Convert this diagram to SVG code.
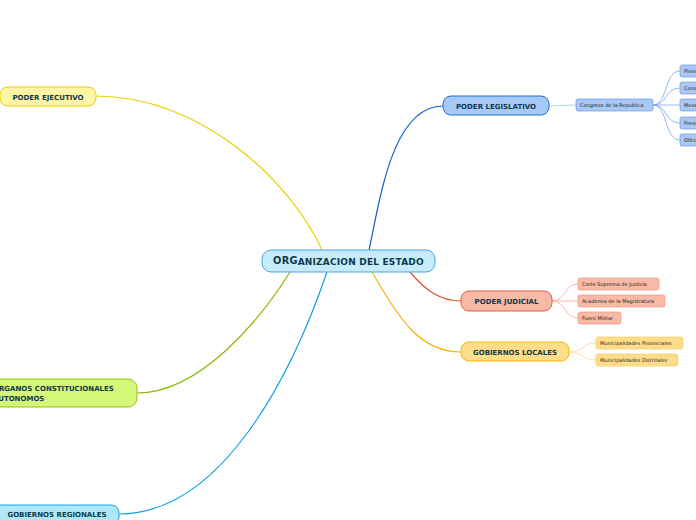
<svg xmlns="http://www.w3.org/2000/svg" width="696" height="520" viewBox="0 0 696 520">
<style>
.t{font-family:"DejaVu Sans",Verdana,sans-serif;font-weight:bold;fill:#10384a;text-anchor:middle}
.m{font-size:7px}
.s{font-family:"DejaVu Sans",Verdana,sans-serif;font-size:5px;fill:#222;}
.c{fill:none;stroke-width:1.2}
.sc{fill:none;stroke-width:0.8}
</style>
<rect width="696" height="520" fill="#fff"/>
<g id="connectors">
<path class="c" stroke="#1460c8" d="M369,250 C380,200 392,106 443,106"/>
<path class="c" stroke="#e6d000" d="M96,96 C200,96 290,180 322,250"/>
<path class="c" stroke="#88b800" d="M137,393 C200,393 260,320 290,272"/>
<path class="c" stroke="#15a0e0" d="M119,514 C220,514 290,380 327,272"/>
<path class="c" stroke="#e84f2a" d="M410,272 C425,290 440,301 461,301"/>
<path class="c" stroke="#f5b400" d="M372,272 C400,320 420,352 461,352"/>
<path class="sc" stroke="#a9c8f5" d="M549,106 L576,105"/>
<g stroke="#7aa6e8">
<path class="sc" d="M653,105 C668,105 664,71 680,71"/>
<path class="sc" d="M653,105 C668,105 664,88 680,88"/>
<path class="sc" d="M653,105 L680,105"/>
<path class="sc" d="M653,105 C668,105 664,123 680,123"/>
<path class="sc" d="M653,105 C668,105 664,140 680,140"/>
</g>
<g stroke="#f5a58f">
<path class="sc" d="M552,301 C566,301 564,284 578,284"/>
<path class="sc" d="M552,301 L578,301"/>
<path class="sc" d="M552,301 C566,301 564,318 578,318"/>
</g>
<g stroke="#fddc8a">
<path class="sc" d="M569,352 C584,352 582,343 596,343"/>
<path class="sc" d="M569,352 C584,352 582,360 596,360"/>
</g>
</g>
<g id="center">
<rect x="262" y="250" width="173" height="22" rx="9" fill="#c6ecfb" stroke="#4aa3df" stroke-width="1"/>
<text class="t" x="348.5" y="264.5" font-size="9" fill="#0f2f55" letter-spacing="0.2"><tspan font-size="9.8" dy="-0.8">ORG</tspan><tspan dy="0.8">ANIZACION DEL ESTADO</tspan></text>
</g>
<g id="legislativo">
<rect x="443" y="96" width="106" height="19" rx="8" fill="#a7c9f7" stroke="#1f6fd0"/>
<text class="t m" x="496" y="108.5">PODER LEGISLATIVO</text>
</g>
<g id="congreso">
<rect x="576" y="99" width="77" height="12" rx="2" fill="#a9c8f5" stroke="#6b9be0" stroke-width="0.7"/>
<text class="s" x="580" y="107">Congreso de la Republica</text>
</g>
<g id="pleno"><rect x="680" y="65" width="60" height="12" rx="2" fill="#a9c8f5" stroke="#6b9be0" stroke-width="0.7"/><text class="s" x="684" y="73">Pleno del Congreso</text></g>
<g id="consejo"><rect x="680" y="82" width="60" height="12" rx="2" fill="#a9c8f5" stroke="#6b9be0" stroke-width="0.7"/><text class="s" x="684" y="90">Consejo Directivo</text></g>
<g id="mesa"><rect x="680" y="99" width="60" height="12" rx="2" fill="#a9c8f5" stroke="#6b9be0" stroke-width="0.7"/><text class="s" x="684" y="107">Mesa Directiva</text></g>
<g id="presidencia"><rect x="680" y="117" width="60" height="12" rx="2" fill="#a9c8f5" stroke="#6b9be0" stroke-width="0.7"/><text class="s" x="684" y="125">Presidencia</text></g>
<g id="oficialia"><rect x="680" y="134" width="60" height="12" rx="2" fill="#a9c8f5" stroke="#6b9be0" stroke-width="0.7"/><text class="s" x="684" y="142">Oficialía Mayor</text></g>
<g id="judicial">
<rect x="461" y="291" width="91" height="20" rx="8" fill="#f8b9a6" stroke="#e0603f"/>
<text class="t m" x="506.5" y="304">PODER JUDICIAL</text>
</g>
<g id="corte"><rect x="578" y="278" width="81" height="12" rx="2" fill="#f8b9a6" stroke="#f09a85" stroke-width="0.7"/><text class="s" x="582" y="286">Corte Suprema de Justicia</text></g>
<g id="academia"><rect x="578" y="295" width="87" height="12" rx="2" fill="#f8b9a6" stroke="#f09a85" stroke-width="0.7"/><text class="s" x="582" y="303">Academia de la Magistratura</text></g>
<g id="fuero"><rect x="578" y="312" width="43" height="12" rx="2" fill="#f8b9a6" stroke="#f09a85" stroke-width="0.7"/><text class="s" x="582" y="320">Fuero Militar</text></g>
<g id="locales">
<rect x="461" y="342" width="108" height="19" rx="8" fill="#fddc8a" stroke="#f5b800"/>
<text class="t m" x="515" y="354.5">GOBIERNOS LOCALES</text>
</g>
<g id="provinciales"><rect x="596" y="337" width="87" height="12" rx="2" fill="#fddc8a" stroke="#f7cf6a" stroke-width="0.7"/><text class="s" x="600" y="345">Municipalidades Provinciales</text></g>
<g id="distritales"><rect x="596" y="354" width="82" height="12" rx="2" fill="#fddc8a" stroke="#f7cf6a" stroke-width="0.7"/><text class="s" x="600" y="362">Municipalidades Distritales</text></g>
<g id="ejecutivo">
<rect x="0" y="87" width="96" height="19" rx="8" fill="#fef6a6" stroke="#e6d200"/>
<text class="t m" x="48" y="99.5">PODER EJECUTIVO</text>
</g>
<g id="organos">
<rect x="-30" y="379" width="167" height="28" rx="9" fill="#d4f77a" stroke="#8fc31f"/>
<text class="t m" style="text-anchor:start" x="-7" y="391">ORGANOS CONSTITUCIONALES</text>
<text class="t m" style="text-anchor:start" x="-7" y="400.5">AUTONOMOS</text>
</g>
<g id="regionales">
<rect x="-20" y="505" width="139" height="20" rx="8" fill="#aee8f7" stroke="#1aa3e0"/>
<text class="t m" x="57" y="517">GOBIERNOS REGIONALES</text>
</g>
</svg>
